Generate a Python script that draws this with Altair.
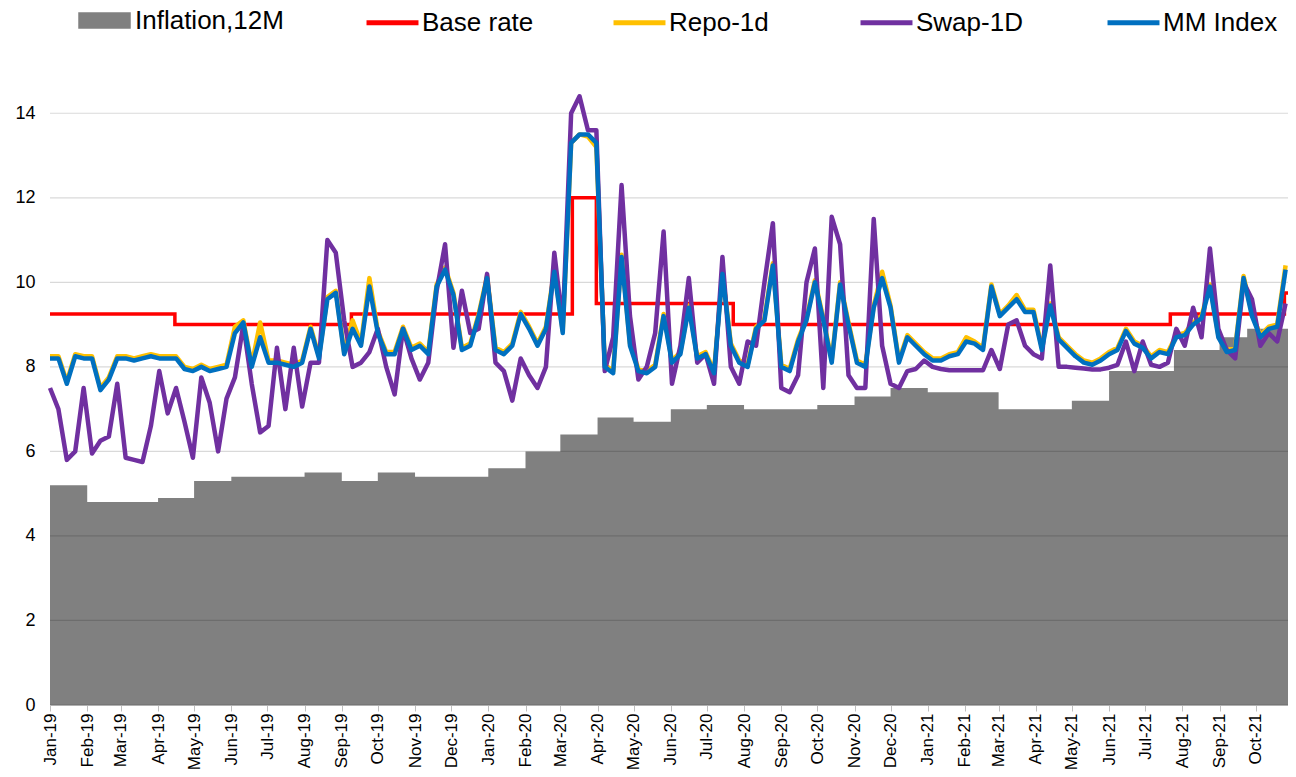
import altair as alt
import pandas as pd

# ---------------- data ----------------
# weekly observation grid (every 7 days from 1 Jan 2019)
grid_dates = pd.date_range("2019-01-01", periods=148, freq="7D").strftime("%Y-%m-%dT00:00:00").tolist()

mm_index = [
    8.2, 8.2, 7.6, 8.25, 8.2, 8.2, 7.45, 7.7, 8.2, 8.2, 8.15, 8.2, 8.25, 8.2, 8.2, 8.2, 7.95, 7.9, 8.0, 7.9,
    7.95, 8.0, 8.8, 9.05, 8.0, 8.7, 8.1, 8.1, 8.05, 8.0, 8.1, 8.9, 8.2, 9.6, 9.75, 8.3, 8.9, 8.5, 9.9, 8.8,
    8.3, 8.3, 8.9, 8.4, 8.5, 8.3, 9.9, 10.3, 9.7, 8.4, 8.5, 9.2, 10.1, 8.4, 8.3, 8.5, 9.25, 8.9, 8.5, 8.9,
    10.25, 8.8, 13.3, 13.5, 13.5, 13.3, 8.0, 7.85, 10.6, 8.5, 7.9, 7.85, 8.0, 9.2, 8.1, 8.3, 9.4, 8.2, 8.3, 7.85,
    10.2, 8.5, 8.1, 8.0, 8.9, 9.1, 10.4, 8.0, 7.9, 8.6, 9.1, 10.0, 9.1, 8.1, 9.95, 9.0, 8.1, 8.0, 9.4, 10.1,
    9.4, 8.1, 8.7, 8.5, 8.3, 8.15, 8.15, 8.25, 8.3, 8.6, 8.55, 8.4, 9.9, 9.2, 9.4, 9.6, 9.3, 9.3, 8.4, 9.45,
    8.65, 8.45, 8.25, 8.1, 8.05, 8.15, 8.3, 8.4, 8.85, 8.55, 8.45, 8.2, 8.35, 8.3, 8.7, 8.75, 9.0, 9.15, 9.9, 8.7,
    8.35, 8.4, 10.1, 9.2, 8.7, 8.9, 8.95, 10.3,
]

repo_1d = [
    8.25, 8.25, 7.65, 8.3, 8.25, 8.25, 7.5, 7.75, 8.25, 8.25, 8.2, 8.25, 8.3, 8.25, 8.25, 8.25, 8.0, 7.95, 8.05, 7.95,
    8.0, 8.05, 8.95, 9.1, 8.05, 9.05, 8.15, 8.15, 8.1, 8.05, 8.15, 8.95, 8.25, 9.65, 9.8, 8.35, 9.1, 8.55, 10.1, 8.85,
    8.35, 8.35, 8.95, 8.45, 8.55, 8.35, 9.95, 10.35, 9.75, 8.45, 8.55, 9.25, 10.15, 8.45, 8.35, 8.55, 9.3, 8.95, 8.55, 8.95,
    10.3, 8.85, 13.3, 13.5, 13.45, 13.2, 8.05, 7.9, 10.65, 8.55, 7.95, 7.9, 8.05, 9.25, 8.15, 8.35, 9.45, 8.25, 8.35, 7.9,
    10.25, 8.55, 8.15, 8.05, 8.95, 9.15, 10.45, 8.05, 7.95, 8.65, 9.15, 10.05, 9.15, 8.15, 10.0, 9.05, 8.15, 8.05, 9.45, 10.25,
    9.45, 8.15, 8.75, 8.55, 8.35, 8.2, 8.2, 8.3, 8.35, 8.7, 8.6, 8.45, 9.95, 9.25, 9.45, 9.7, 9.35, 9.35, 8.45, 9.5,
    8.7, 8.5, 8.3, 8.15, 8.1, 8.2, 8.35, 8.45, 8.9, 8.6, 8.5, 8.25, 8.4, 8.35, 8.75, 8.8, 9.05, 9.2, 9.95, 8.75,
    8.4, 8.45, 10.15, 9.25, 8.75, 8.95, 9.0, 10.4,
]

swap_1d = [
    7.5, 7.0, 5.8, 6.0, 7.5, 5.95, 6.25, 6.35, 7.6, 5.85, 5.8, 5.75, 6.6, 7.9, 6.9, 7.5, 6.7, 5.85, 7.75, 7.15,
    6.0, 7.25, 7.75, 9.0, 7.6, 6.45, 6.6, 8.45, 7.0, 8.45, 7.06, 8.1, 8.1, 11.0, 10.7, 9.1, 8.0, 8.1, 8.35, 8.9,
    8.0, 7.35, 8.9, 8.2, 7.7, 8.1, 9.8, 10.9, 8.45, 9.8, 8.8, 8.9, 10.2, 8.1, 7.9, 7.2, 8.2, 7.8, 7.5, 8.0,
    10.7, 9.0, 14.0, 14.4, 13.6, 13.6, 7.9, 8.7, 12.3, 9.2, 7.7, 8.0, 8.8, 11.2, 7.6, 8.5, 10.1, 8.1, 8.3, 7.6,
    10.6, 8.0, 7.6, 8.6, 8.5, 10.0, 11.4, 7.5, 7.4, 7.8, 10.0, 10.8, 7.5, 11.55, 10.9, 7.8, 7.5, 7.5, 11.5, 8.5,
    7.6, 7.5, 7.9, 7.95, 8.15, 8.0, 7.95, 7.92, 7.92, 7.92, 7.92, 7.92, 8.4, 7.95, 9.0, 9.1, 8.5, 8.3, 8.2, 10.4,
    8.0, 8.0, 7.98, 7.96, 7.94, 7.94, 7.98, 8.05, 8.6, 7.9, 8.6, 8.05, 8.0, 8.1, 8.9, 8.5, 9.4, 8.7, 10.8, 8.9,
    8.4, 8.2, 10.0, 9.6, 8.5, 8.8, 8.6, 9.5,
]

infl_dates = [
    "2019-01-01", "2019-02-01", "2019-03-01", "2019-04-01", "2019-05-01", "2019-06-01", "2019-07-01",
    "2019-08-01", "2019-09-01", "2019-10-01", "2019-11-01", "2019-12-01", "2020-01-01", "2020-02-01",
    "2020-03-01", "2020-04-01", "2020-05-01", "2020-06-01", "2020-07-01", "2020-08-01", "2020-09-01",
    "2020-10-01", "2020-11-01", "2020-12-01", "2021-01-01", "2021-02-01", "2021-03-01", "2021-04-01",
    "2021-05-01", "2021-06-01", "2021-07-01", "2021-07-25", "2021-09-01", "2021-09-24", "2021-10-28",
]
infl_values = [
    5.2, 4.8, 4.8, 4.9, 5.3, 5.4, 5.4, 5.5, 5.3, 5.5, 5.4, 5.4, 5.6, 6.0, 6.4, 6.8, 6.7, 7.0, 7.1,
    7.0, 7.0, 7.1, 7.3, 7.5, 7.4, 7.4, 7.0, 7.0, 7.2, 7.9, 7.9, 8.4, 8.7, 8.9, 8.9,
]

base_dates = ["2019-01-01", "2019-04-15", "2019-09-09", "2020-03-11", "2020-03-31",
              "2020-07-23", "2021-07-22", "2021-10-25", "2021-10-28"]
base_values = [9.25, 9.0, 9.25, 12.0, 9.5, 9.0, 9.25, 9.75, 9.75]

y_ticks = [0, 2, 4, 6, 8, 10, 12, 14]

line_names = ["Base rate", "Repo-1d", "Swap-1D", "MM Index"]
line_colors = ["#FF0000", "#FFC000", "#7030A0", "#0070C0"]

# ---------------- tables ----------------
def ts(d):
    return d + "T00:00:00"

infl_df = pd.DataFrame({"date": [ts(d) for d in infl_dates], "value": infl_values,
                        "series": "Inflation,12M"})
base_df = pd.DataFrame({"date": [ts(d) for d in base_dates], "value": base_values,
                        "series": "Base rate"})
repo_df = pd.DataFrame({"date": grid_dates, "value": repo_1d, "series": "Repo-1d"})
swap_df = pd.DataFrame({"date": grid_dates, "value": swap_1d, "series": "Swap-1D"})
mm_df = pd.DataFrame({"date": grid_dates, "value": mm_index, "series": "MM Index"})
grid_df = pd.DataFrame({"value": y_ticks})

FONT = "Liberation Sans"

x_enc = alt.X(
    "date:T",
    scale=alt.Scale(domain=[alt.DateTime(year=2019, month=1, date=1),
                            alt.DateTime(year=2021, month=10, date=28)]),
    axis=alt.Axis(format="%b-%y", labelAngle=-90, tickCount={"interval": "month", "step": 1},
                  grid=False, domainColor="#bfbfbf", tickColor="#bfbfbf", tickSize=6,
                  labelFontSize=17, labelPadding=2, title=None, labelColor="black",
                  labelFont=FONT, labelOverlap=False, labelFlush=False),
)
y_enc = alt.Y(
    "value:Q",
    scale=alt.Scale(domain=[0, 15], nice=False),
    axis=alt.Axis(values=y_ticks, grid=False, domain=False, ticks=False, labelFontSize=18,
                  labelPadding=15, title=None, labelColor="black", labelFont=FONT),
)

color_enc = alt.Color(
    "series:N",
    scale=alt.Scale(domain=line_names, range=line_colors),
    legend=alt.Legend(orient="none", legendX=314, legendY=-77, direction="horizontal",
                      columns=4, gridAlign="all", columnPadding=66, title=None,
                      symbolType="stroke", symbolSize=2700, symbolStrokeWidth=5,
                      labelFontSize=26, labelFont=FONT, labelColor="black", labelOffset=1,
                      padding=0),
)
fill_enc = alt.Fill(
    "series:N",
    scale=alt.Scale(domain=["Inflation,12M"], range=["#808080"]),
    legend=alt.Legend(orient="none", legendX=28, legendY=-77, title=None,
                      symbolType="M-1,-0.31H1V0.31H-1Z", symbolSize=2756,
                      symbolStrokeWidth=0, labelFontSize=26, labelFont=FONT,
                      labelColor="black", labelOffset=4, padding=0),
)

area = alt.Chart(infl_df).mark_area(interpolate="step-after").encode(x=x_enc, y=y_enc, fill=fill_enc)
grid = alt.Chart(grid_df).mark_rule(color="black", opacity=0.15, strokeWidth=1.2).encode(y=y_enc)
base = alt.Chart(base_df).mark_line(interpolate="step-after", strokeWidth=3.5).encode(
    x=x_enc, y=y_enc, color=color_enc)
repo = alt.Chart(repo_df).mark_line(strokeWidth=4.5, strokeJoin="round").encode(
    x=x_enc, y=y_enc, color=color_enc)
swap = alt.Chart(swap_df).mark_line(strokeWidth=4.5, strokeJoin="round").encode(
    x=x_enc, y=y_enc, color=color_enc)
mm = alt.Chart(mm_df).mark_line(strokeWidth=4.5, strokeJoin="round").encode(
    x=x_enc, y=y_enc, color=color_enc)

chart = (
    alt.layer(area, grid, base, repo, swap, mm)
    .properties(width=1238, height=634, autosize="none",
                padding={"left": 42, "top": 63, "right": 0, "bottom": 64})
    .configure(font=FONT, view=alt.ViewConfig(stroke=None))
)

chart.save("out.html", embed_options={"renderer": "svg", "actions": False})
